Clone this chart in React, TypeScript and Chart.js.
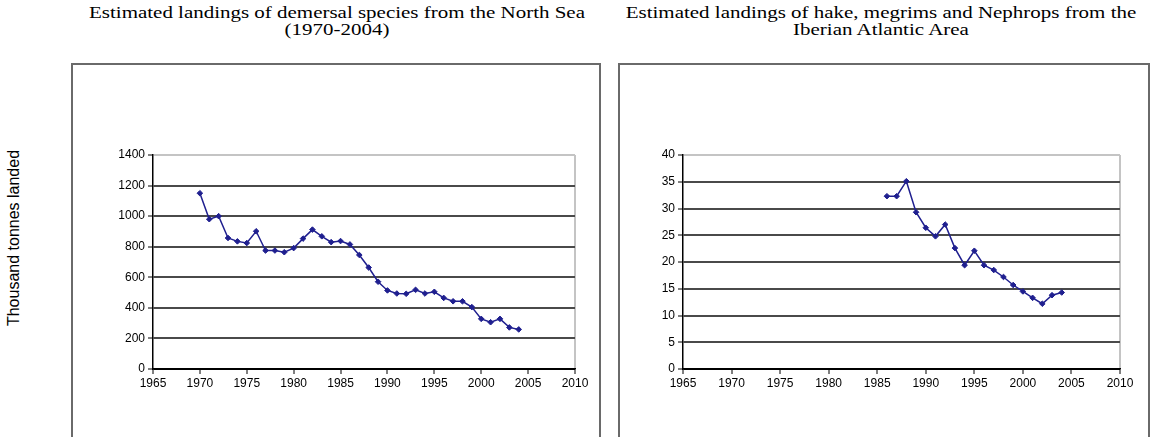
import React, { useEffect, useRef } from "react";
import { Chart, registerables } from "chart.js";

Chart.register(...registerables);

const northSeaYears = [
  1970, 1971, 1972, 1973, 1974, 1975, 1976, 1977, 1978, 1979, 1980, 1981, 1982, 1983, 1984, 1985, 1986, 1987,
  1988, 1989, 1990, 1991, 1992, 1993, 1994, 1995, 1996, 1997, 1998, 1999, 2000, 2001, 2002, 2003, 2004,
];
const northSeaLandings = [
  1150, 980, 1000, 857, 835, 824, 901, 775, 775, 764, 791, 853, 912, 868, 830, 837, 815, 746,
  664, 571, 514, 494, 492, 518, 494, 505, 465, 443, 443, 405, 328, 306, 328, 272, 259,
];
const iberianYears = [
  1986, 1987, 1988, 1989, 1990, 1991, 1992, 1993, 1994, 1995, 1996, 1997, 1998, 1999, 2000, 2001, 2002, 2003, 2004,
];
const iberianLandings = [
  32.3, 32.3, 35.1, 29.3, 26.4, 24.8, 27.0, 22.6, 19.4, 22.1, 19.4, 18.5, 17.2, 15.7, 14.5, 13.3, 12.2, 13.8, 14.3,
];
const xTickValues = [1965, 1970, 1975, 1980, 1985, 1990, 1995, 2000, 2005, 2010];
const northSeaYTicks = [0, 200, 400, 600, 800, 1000, 1200, 1400];
const iberianYTicks = [0, 5, 10, 15, 20, 25, 30, 35, 40];

const leftTitle = ["Estimated landings of demersal species from the North Sea", "(1970-2004)"];
const rightTitle = ["Estimated landings of hake, megrims and Nephrops from the", "Iberian Atlantic Area"];
const yAxisTitle = "Thousand tonnes landed";

const LINE_COLOR = "#1f1f8f";

function makeConfig(years: number[], values: number[], yTicks: number[], yAxisWidth: number): any {
  const yMax = yTicks[yTicks.length - 1];
  const xMax = xTickValues[xTickValues.length - 1];
  const tickFont = { family: "'Liberation Sans', Arial, sans-serif", size: 12 };
  return {
    type: "line",
    data: {
      datasets: [
        {
          data: years.map((y, i) => ({ x: y, y: values[i] })),
          borderColor: LINE_COLOR,
          backgroundColor: LINE_COLOR,
          borderWidth: 1.5,
          pointStyle: "rectRot",
          pointRadius: 2.8,
          pointBorderWidth: 1,
          tension: 0,
        },
      ],
    },
    options: {
      animation: false,
      responsive: false,
      maintainAspectRatio: false,
      layout: { padding: { top: 15, right: 20, left: 0, bottom: 0 } },
      plugins: { legend: { display: false }, tooltip: { enabled: false }, title: { display: false } },
      scales: {
        x: {
          type: "linear",
          min: xTickValues[0],
          max: xMax,
          afterBuildTicks: (scale: any) => {
            scale.ticks = xTickValues.map((v) => ({ value: v }));
          },
          afterFit: (scale: any) => {
            scale.height = 41;
          },
          ticks: {
            callback: (v: any) => String(v),
            font: tickFont,
            color: "#000",
            padding: 2,
            maxRotation: 0,
            autoSkip: false,
          },
          grid: {
            drawOnChartArea: true,
            color: (ctx: any) => (ctx.tick && ctx.tick.value === xMax ? "#c4c4c4" : "rgba(0,0,0,0)"),
            lineWidth: 2,
            tickColor: "#000",
            tickLength: 5,
            tickWidth: 1,
          },
          border: { display: true, color: "#000", width: 1.5 },
        },
        y: {
          type: "linear",
          min: yTicks[0],
          max: yMax,
          afterBuildTicks: (scale: any) => {
            scale.ticks = yTicks.map((v) => ({ value: v }));
          },
          afterFit: (scale: any) => {
            scale.width = yAxisWidth;
          },
          ticks: {
            callback: (v: any) => String(v),
            font: tickFont,
            color: "#000",
            padding: 3,
          },
          grid: {
            color: (ctx: any) => {
              const v = ctx.tick ? ctx.tick.value : 0;
              if (v === yMax) return "#c4c4c4";
              if (v === yTicks[0]) return "#000";
              return "#4a4a4a";
            },
            lineWidth: 2,
            tickColor: "#000",
            tickLength: 5,
            tickWidth: 1,
          },
          border: { display: true, color: "#000", width: 1.5 },
        },
      },
    },
  };
}

function LineChart(props: { years: number[]; values: number[]; yTicks: number[]; yAxisWidth: number; left: number }) {
  const ref = useRef<HTMLCanvasElement | null>(null);
  useEffect(() => {
    if (!ref.current) return;
    const chart = new Chart(ref.current, makeConfig(props.years, props.values, props.yTicks, props.yAxisWidth));
    return () => chart.destroy();
  }, []);
  return (
    <canvas
      ref={ref}
      width={500}
      height={270}
      style={{ position: "absolute", left: props.left, top: 140, width: 500, height: 270 }}
    />
  );
}

function Title(props: { lines: string[]; center: number }) {
  return (
    <div
      style={{
        position: "absolute",
        left: props.center - 300,
        top: 4,
        width: 600,
        textAlign: "center",
        fontFamily: "'Liberation Serif', 'Times New Roman', serif",
        fontSize: 16,
        lineHeight: "17px",
        color: "#000",
        whiteSpace: "nowrap",
        transform: "scaleX(1.31)",
        transformOrigin: "center",
      }}
    >
      {props.lines.map((l, i) => (
        <div key={i}>{l}</div>
      ))}
    </div>
  );
}

export default function App() {
  return (
    <div style={{ position: "absolute", left: 0, top: 0, width: 1154, height: 437, background: "#fff", overflow: "hidden" }}>
      <Title lines={leftTitle} center={337} />
      <Title lines={rightTitle} center={881} />
      <div
        style={{
          position: "absolute",
          left: 14,
          top: 238,
          transform: "translate(-50%, -50%) rotate(-90deg)",
          fontFamily: "'Liberation Sans', Arial, sans-serif",
          fontSize: 16,
          whiteSpace: "nowrap",
          color: "#000",
        }}
      >
        {yAxisTitle}
      </div>
      <div
        style={{
          position: "absolute",
          left: 71,
          top: 63,
          width: 530,
          height: 400,
          border: "2px solid #6a6a6a",
          borderBottom: "none",
          boxSizing: "border-box",
        }}
      />
      <div
        style={{
          position: "absolute",
          left: 618,
          top: 63,
          width: 532,
          height: 400,
          border: "2px solid #6a6a6a",
          borderBottom: "none",
          boxSizing: "border-box",
        }}
      />
      <LineChart years={northSeaYears} values={northSeaLandings} yTicks={northSeaYTicks} yAxisWidth={58} left={95} />
      <LineChart years={iberianYears} values={iberianLandings} yTicks={iberianYTicks} yAxisWidth={43} left={640} />
    </div>
  );
}
